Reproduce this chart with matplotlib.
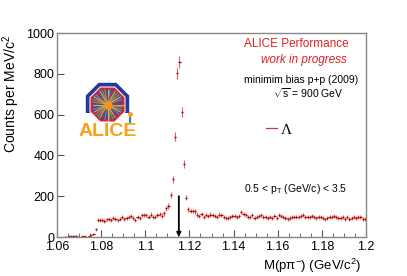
import numpy as np
import matplotlib
matplotlib.use("Agg")
import matplotlib.pyplot as plt
from matplotlib.lines import Line2D
from matplotlib.patches import Polygon, Rectangle
from matplotlib.ticker import MultipleLocator

plt.rcParams['font.family'] = ['Liberation Sans', 'DejaVu Sans']
plt.rcParams['mathtext.fontset'] = 'custom'
plt.rcParams['mathtext.rm'] = 'Liberation Sans'
plt.rcParams['mathtext.it'] = 'Liberation Sans:italic'

# invariant mass histogram, 1 MeV bins from 1.06 to 1.20 GeV/c^2
bin_lo = 1.060
bin_width = 0.001
counts = [
    0, 0, 0, 2, 0, 3, 5, 4, 6, 2,
    0, 3, 5, 0, 4, 8, 13, 38, 84, 85,
    82, 78, 86, 90, 84, 92, 88, 81, 90, 97,
    88, 95, 100, 104, 93, 85, 98, 92, 107, 108,
    106, 99, 110, 96, 98, 108, 112, 105, 116, 140,
    152, 206, 283, 492, 802, 860, 614, 358, 193, 136,
    128, 127, 126, 110, 104, 112, 100, 108, 104, 110,
    106, 102, 100, 110, 108, 98, 92, 94, 100, 102,
    104, 98, 104, 122, 112, 106, 100, 96, 106, 92,
    98, 104, 108, 100, 96, 94, 100, 92, 102, 94,
    108, 102, 96, 92, 88, 94, 96, 98, 98, 96,
    104, 108, 100, 96, 98, 104, 98, 92, 100, 98,
    94, 86, 92, 100, 96, 102, 98, 92, 94, 100,
    90, 96, 88, 94, 98, 92, 100, 96, 90, 88,
]
arrow_x = 1.1152
arrow_top = 200

counts = np.array(counts, dtype=float)
centers = bin_lo + bin_width * (np.arange(len(counts)) + 0.5)
errors = np.sqrt(counts)
shown = counts > 0

W, H = 407, 276
fig = plt.figure(figsize=(W / 100, H / 100), dpi=100)
ax = fig.add_axes([57 / W, 1 - 237 / H, 309 / W, 204 / H])

ax.errorbar(centers[shown], counts[shown], yerr=errors[shown], fmt='none',
            ecolor='#e06060', elinewidth=0.8)
ax.errorbar(centers[shown], counts[shown], xerr=bin_width / 2, fmt='none',
            ecolor='#a00000', elinewidth=1.0)

ax.annotate('', xy=(arrow_x, 0), xytext=(arrow_x, arrow_top),
            arrowprops=dict(arrowstyle='-|>', color='black', lw=1.3,
                            mutation_scale=6, shrinkA=0, shrinkB=0))

ax.set_xlim(1.06, 1.2)
ax.set_ylim(0, 1000)
ax.xaxis.set_major_locator(MultipleLocator(0.02))
ax.xaxis.set_minor_locator(MultipleLocator(0.005))
ax.yaxis.set_major_locator(MultipleLocator(200))
ax.set_xticklabels([f'{v:g}' for v in ax.get_xticks()])
ax.tick_params(which='both', direction='in', colors='#555555',
               labelcolor='black', labelsize=9, top=False, right=False)
ax.tick_params(which='major', length=5, width=0.8, pad=2)
ax.tick_params(axis='x', which='major', pad=3)
ax.tick_params(which='minor', length=3, width=0.6)
for s in ax.spines.values():
    s.set_color('#888888')
    s.set_linewidth(1.0)

ax.set_ylabel('Counts per MeV/c$^{2}$', fontsize=10, loc='top')
ax.yaxis.set_label_coords(-0.112, 0.99)
ax.set_xlabel('M(pπ$^{-}$) (GeV/c$^{2}$)', fontsize=9.5, loc='right')
ax.xaxis.set_label_coords(0.984, -0.098)

# legend entry for Lambda
proxy = Line2D([], [], color='#e03030', lw=0.9)
ax.legend([proxy], ['Λ'], loc='center left', bbox_to_anchor=(0.676, 0.525),
          frameon=False, handlelength=0.7, handletextpad=0.25,
          borderpad=0, borderaxespad=0,
          prop={'family': 'Liberation Serif', 'size': 11})

def ftext(x, y, s, **kw):
    fig.text(x / W, 1 - y / H, s, va='center', **kw)

ftext(244, 44, 'ALICE Performance', color='#e02020', fontsize=8.5)
ftext(261, 60, 'work in progress', color='#e02020', fontsize=8.5, style='italic')
ftext(244, 80, 'minimim bias p+p (2009)', fontsize=7.5)
ftext(273, 93, r'$\sqrt{\mathrm{s}}$ = 900 GeV', fontsize=7.5)
ftext(244, 189, r'0.5 < p$_{\mathrm{T}}$ (GeV/c) < 3.5', fontsize=7.5)

# ALICE logo (drawn approximation)
lg = fig.add_axes([78 / W, 1 - 140 / H, 59 / W, 60 / H])
lg.set_xlim(0, 59)
lg.set_ylim(60, 0)
lg.axis('off')
cx, cy = 29.5, 24.5
ang = np.deg2rad(22.5 + 45 * np.arange(8))
def octagon(r):
    return np.column_stack([cx + r * np.cos(ang), cy + r * np.sin(ang)])
lg.add_patch(Polygon(octagon(23.5), closed=True, fc='#233a9a', ec='none'))
lg.add_patch(Polygon(octagon(19.5), closed=True, fc='white', ec='none'))
lg.add_patch(Rectangle((0, 33), 59, 27, fc='white', ec='none'))
lg.add_patch(Polygon(octagon(17.5), closed=True, fc='#5a3f8a', ec='#e8202a', lw=1.2))
ray_cols = ['#f4c430', '#7ac143', '#f07f2a', '#d9e021', '#3fa9f5', '#e8202a']
for k, a in enumerate(np.linspace(0, 2 * np.pi, 36, endpoint=False)):
    lg.plot([cx, cx + 15 * np.cos(a)], [cy, cy + 15 * np.sin(a)],
            color=ray_cols[k % len(ray_cols)], lw=0.8, alpha=0.85)
lg.plot(cx, cy, 'o', color='#f7931e', ms=5)
lg.plot([52, 52], [34, 42], color='#2a7fd4', lw=1.5)
lg.plot(52, 34, 'o', color='#f7a21b', ms=2.5)
lg.text(29.5, 51, 'ALICE', color='#f7a21b', fontsize=14, fontweight='bold',
        ha='center', va='center')

fig.savefig('out.png', dpi=100)
